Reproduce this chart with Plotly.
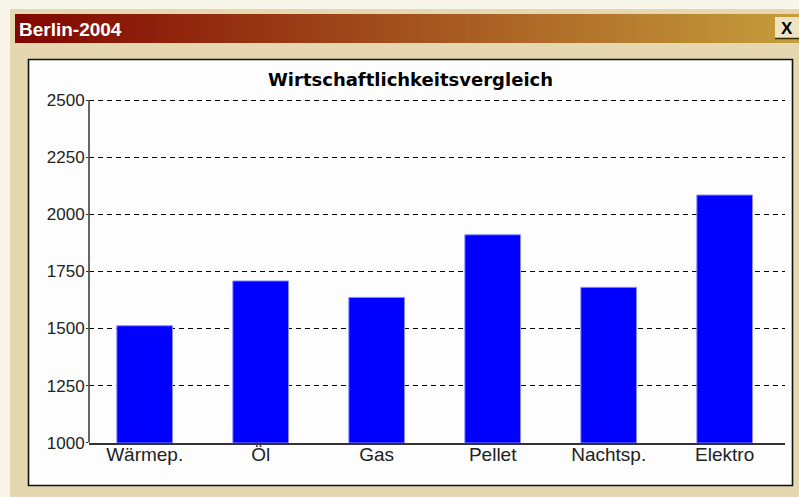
import plotly.graph_objects as go

# ---- data ----
categories = ["Wärmep.", "Öl", "Gas", "Pellet", "Nachtsp.", "Elektro"]
values = [1512, 1708, 1636, 1910, 1680, 2084]
y_ticks = [1000, 1250, 1500, 1750, 2000, 2250, 2500]
chart_title = "Wirtschaftlichkeitsvergleich"
window_title = "Berlin-2004"

W, H = 799, 497


def px(x):
    return x / W


def py(y):
    return 1 - y / H


fig = go.Figure()
fig.add_trace(go.Bar(
    x=categories, y=values, width=0.48,
    marker=dict(color="#0000ff", line=dict(color="#8c8cff", width=1)),
    hoverinfo="x+y",
))

shapes = []
# outer beige window frame
shapes.append(dict(type="rect", xref="paper", yref="paper", x0=px(10), x1=px(W + 2), y0=py(H + 2), y1=py(9),
                   fillcolor="#e5d7b0", line=dict(width=0), layer="below"))
# title bar gradient
n = 120
x_start, x_end = 15, W
c0 = (130, 6, 0)
c1 = (197, 157, 60)
for i in range(n):
    t = i / (n - 1)
    c = tuple(int(round(c0[k] + (c1[k] - c0[k]) * t)) for k in range(3))
    xa = x_start + (x_end - x_start) * i / n
    xb = x_start + (x_end - x_start) * (i + 1) / n + 0.8
    shapes.append(dict(type="rect", xref="paper", yref="paper", x0=px(xa), x1=px(min(xb, W)),
                       y0=py(43), y1=py(14), fillcolor="rgb(%d,%d,%d)" % c, line=dict(width=0), layer="below"))
# close button
shapes.append(dict(type="rect", xref="paper", yref="paper", x0=px(775), x1=px(799), y0=py(38), y1=py(17),
                   fillcolor="#eee4c2", line=dict(width=0), layer="below"))
shapes.append(dict(type="line", xref="paper", yref="paper", x0=px(775), x1=px(799), y0=py(38.5), y1=py(38.5),
                   line=dict(color="#3a2a00", width=1.5), layer="below"))
# white chart panel
shapes.append(dict(type="rect", xref="paper", yref="paper", x0=px(28.5), x1=px(792.5), y0=py(485.5), y1=py(59.5),
                   fillcolor="#fdfdfd", line=dict(color="#111111", width=1.6), layer="below"))
# y axis line from first to last tick
shapes.append(dict(type="line", xref="paper", yref="y", x0=px(89), x1=px(89), y0=y_ticks[0], y1=y_ticks[-1],
                   line=dict(color="#333333", width=1.5), layer="above"))
fig.update_layout(shapes=shapes)

fig.add_annotation(xref="paper", yref="paper", x=px(17), y=py(29), xanchor="left", yanchor="middle",
                   text="<b>%s</b>" % window_title, showarrow=False,
                   font=dict(family="Liberation Sans, Arial", size=19, color="#ffffff"))
fig.add_annotation(xref="paper", yref="paper", x=px(787), y=py(28), xanchor="center", yanchor="middle",
                   text="<b>X</b>", showarrow=False,
                   font=dict(family="Liberation Sans, Arial", size=17, color="#000000"))
fig.add_annotation(xref="paper", yref="paper", x=px(410), y=py(80), xanchor="center", yanchor="middle",
                   text="<b>%s</b>" % chart_title, showarrow=False,
                   font=dict(family="DejaVu Sans, Liberation Sans", size=18, color="#000000"))

# y scale: 1000 at px 442.7, 2500 at px 100 -> extend top a little so the 2500 gridline is drawn
y_lo, y_hi = 1000, 2520
unit = (442.7 - 100) / 1500.0
top_px = 442.7 - (y_hi - y_lo) * unit

fig.update_layout(
    width=W, height=H,
    margin=dict(l=0, r=0, t=0, b=0),
    paper_bgcolor="#f8f5ea",
    plot_bgcolor="rgba(0,0,0,0)",
    showlegend=False,
    bargap=0.52,
    xaxis=dict(
        domain=[px(89), px(785)],
        type="category",
        range=[-0.48, 5.52],
        showgrid=False, zeroline=False,
        showline=True, linecolor="#333333", linewidth=1.5,
        ticks="", tickfont=dict(family="Liberation Sans, Arial", size=19, color="#222222"),
        ticklabelstandoff=-6,
        automargin=False, fixedrange=True,
    ),
    yaxis=dict(
        domain=[py(442.7), py(top_px)],
        range=[y_lo, y_hi],
        tickvals=y_ticks,
        ticktext=[str(v) for v in y_ticks],
        showgrid=True, gridcolor="#000000", gridwidth=1, griddash="5px,4px",
        zeroline=False,
        showline=False,
        ticks="outside", ticklen=2, tickcolor="#333333",
        tickfont=dict(family="Liberation Sans, Arial", size=17, color="#222222"),
        ticklabelstandoff=-2,
        automargin=False, fixedrange=True,
    ),
)

fig.write_html("out.html", config={"displayModeBar": False},
               post_script="document.body.style.margin='0';document.body.style.overflow='hidden';")
